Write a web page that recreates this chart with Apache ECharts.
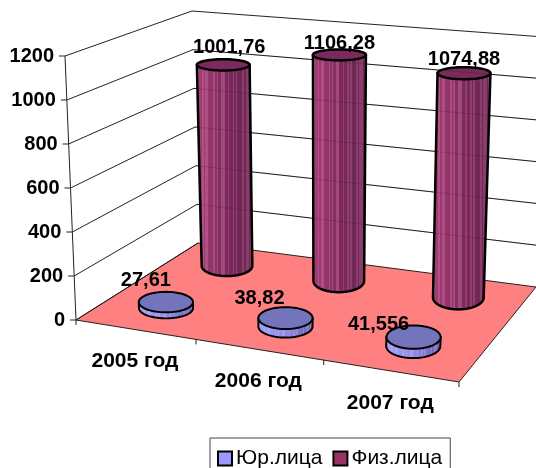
<!DOCTYPE html>
<html><head><meta charset="utf-8">
<style>html,body{margin:0;padding:0;background:#fff}#c{width:536px;height:468px}</style>
<script src="https://cdn.jsdelivr.net/npm/echarts@6/dist/echarts.min.js"></script>
</head><body><div id="c"></div>
<script>
const categories = ['2005 год', '2006 год', '2007 год'];
const seriesNames = ['Юр.лица', 'Физ.лица'];
const valuesJur = [27.61, 38.82, 41.556];
const valuesFiz = [1001.76, 1106.28, 1074.88];
const labelsJur = ['27,61', '38,82', '41,556'];
const labelsFiz = ['1001,76', '1106,28', '1074,88'];
const yTicks = [0, 200, 400, 600, 800, 1000, 1200];

// layout of the oblique box (not data)
const L = 76, R = 459, T = 56, B = 320, W = R - L, H = B - T;
const A0 = [76, 320], B0 = [459, 382], C0 = [198, 243], D0 = [536, 287];
const A1 = [65, 56], B1 = [473, 117], C1 = [192, 11], D1 = [544, 37];
const nudgeJur = [[-20, -22], [-26, -20], [-35, -13]];
const nudgeFiz = [[6, -17], [0, -11], [0, -14]];
const FONT_B = 'bold 20px "Liberation Sans"';
const FONT_CAT = 'bold 21px "Liberation Sans"';

function lerp(a, b, t) { return [a[0] + (b[0] - a[0]) * t, a[1] + (b[1] - a[1]) * t]; }
function project(u, d, v) {
  const f0 = lerp(lerp(A0, B0, u), lerp(C0, D0, u), d);
  const f1 = lerp(lerp(A1, B1, u), lerp(C1, D1, u), d);
  return lerp(f0, f1, v);
}
function frac(api, cat, val) {
  const p = api.coord([cat, val]);
  const u = (p[0] - L) / W;
  return [u - 0.012 - 0.012 * Math.pow(Math.sin(Math.PI * u), 4), (B - p[1]) / H];
}
function zeroV(api, val) { return (B - api.coord([0, val])[1]) / H; }

function hex(c) { return '#' + c.map(x => Math.round(x).toString(16).padStart(2, '0')).join(''); }
function mix(a, b, t) { return [0, 1, 2].map(i => a[i] + (b[i] - a[i]) * t); }
const STRIPE = [0, 1, 0, 0, 1, 0, 1, 1, 0, 0, 0, 1, 0, 1, 0, 0, 1, 1, 0, 0, 1, 0, 0, 1, 0, 1, 0, 0, 0, 1, 0, 1, 1, 0, 1, 0];
function stripedFill(c0, c1, c2, light, amount) {
  const stops = [], n = STRIPE.length;
  for (let k = 0; k < n; k++) {
    const t = k / n, t2 = (k + 1) / n;
    const base = t < 0.5 ? mix(c0, c1, t * 2) : mix(c1, c2, (t - 0.5) * 2);
    const col = STRIPE[k] ? hex(mix(base, light, amount * (t < .5 ? 1 : .7))) : hex(base);
    stops.push({ offset: t, color: col }, { offset: t2, color: col });
  }
  return new echarts.graphic.LinearGradient(0, 0, 1, 0, stops);
}
const fizFill = stripedFill([168, 64, 118], [124, 42, 94], [104, 38, 80], [200, 110, 155], 0.45);
const jurFill = stripedFill([160, 160, 255], [140, 140, 235], [100, 90, 170], [205, 170, 215], 0.45);

function ellipse(cx, cy, rx, ry, a0, a1, n) {
  const pts = [];
  for (let i = 0; i <= n; i++) {
    const a = a0 + (a1 - a0) * i / n;
    pts.push([cx + rx * Math.cos(a), cy + ry * Math.sin(a)]);
  }
  return pts;
}
function cylinder(api, params, cfg) {
  const i = params.dataIndex, val = api.value(1);
  const [u, v] = frac(api, i, val);
  const d = cfg.d, base = project(u, d, 0), top = project(u, d, v);
  const rxB = (project(u + cfg.ru, d, 0)[0] - project(u - cfg.ru, d, 0)[0]) / 2;
  const ryB = (project(u, d - cfg.rd, 0)[1] - project(u, d + cfg.rd, 0)[1]) / 2;
  const rxT = rxB * (1 + 0.05 * v), ryT = ryB * (1 - 0.55 * v);
  const body = [[top[0] - rxT, top[1]], [top[0] + rxT, top[1]]].concat(ellipse(base[0], base[1], rxB, ryB, 0, Math.PI, 40));
  return {
    type: 'group', children: [
      { type: 'polygon', shape: { points: body }, style: { fill: cfg.side, stroke: '#000', lineWidth: cfg.lw, lineJoin: 'round' } },
      { type: 'polygon', shape: { points: ellipse(top[0], top[1], rxT, ryT, 0, Math.PI * 2, 60) }, style: { fill: cfg.top, stroke: '#000', lineWidth: cfg.lw } },
      { type: 'text', z2: 50, style: { text: cfg.labels[i], x: top[0] + cfg.nudge[i][0], y: top[1] + cfg.nudge[i][1], fill: '#000', font: FONT_B, textAlign: 'center', textVerticalAlign: 'middle' } }
    ]
  };
}
function gridPath(api, val) {
  const v = zeroV(api, val);
  return [project(0, 0, v), project(0, 1, v), project(1, 1, v)];
}

const chart = echarts.init(document.getElementById('c'), null, { renderer: 'canvas' });
chart.setOption({
  animation: false,
  backgroundColor: '#fff',
  grid: { left: L, width: W, top: T, height: H },
  xAxis: { type: 'category', data: categories, show: false },
  yAxis: { type: 'value', min: 0, max: 1200, interval: 200, show: false },
  legend: {
    data: seriesNames, left: 210, top: 438, orient: 'horizontal',
    padding: [10, 8, 10, 7], itemGap: 10, itemWidth: 14, itemHeight: 14,
    borderColor: '#444', borderWidth: 1, backgroundColor: '#fff', icon: 'rect', inactiveColor: '#000',
    selectedMode: false,
    textStyle: { color: '#000', fontFamily: '"Liberation Sans"', fontSize: 21, padding: [0, 0, 0, -1] }
  },
  series: [
    { // floor
      type: 'custom', name: 'floor', z: 1, silent: true, data: [[0, 0]],
      renderItem(params, api) {
        const c = [project(0, 0, 0), project(1, 0, 0), project(1, 1, 0), project(0, 1, 0)];
        return { type: 'group', children: [
          { type: 'polygon', shape: { points: c }, style: { fill: '#ff8080', stroke: null } },
          { type: 'polyline', shape: { points: [c[3], c[0], c[1], c[2]] }, style: { stroke: '#222', lineWidth: 1, fill: null } }
        ] };
      }
    },
    { // value axis, gridlines and tick labels
      type: 'custom', name: 'grid', z: 2, silent: true, data: yTicks.map(t => [0, t]),
      renderItem(params, api) {
        const val = api.value(1), pts = gridPath(api, val), p = pts[0];
        return { type: 'group', children: [
          { type: 'polyline', shape: { points: pts }, style: { stroke: '#222', lineWidth: 1, fill: null } },
          { type: 'line', shape: { x1: p[0] - 6, y1: p[1], x2: p[0], y2: p[1] }, style: { stroke: '#222', lineWidth: 1 } },
          { type: 'text', style: { text: String(val), x: p[0] - 11, y: p[1], fill: '#000', font: FONT_B, textAlign: 'right', textVerticalAlign: 'middle' } }
        ] };
      }
    },
    { // axis line on the left
      type: 'custom', name: 'axis', z: 2, silent: true, data: [[0, 0]],
      renderItem(params, api) {
        return { type: 'line', shape: { x1: A0[0], y1: A0[1], x2: A1[0], y2: A1[1] }, style: { stroke: '#222', lineWidth: 1 } };
      }
    },
    { // category ticks and labels
      type: 'custom', name: 'cats', z: 2, silent: true, data: categories.map((c, i) => [i, 0]),
      renderItem(params, api) {
        const i = params.dataIndex;
        const u = frac(api, i, 0)[0], p = project(u, 0, 0);
        const t = project((i + 1) / categories.length - (i < 2 ? 0.02 : 0), 0, 0);
        const children = [
          { type: 'line', shape: { x1: t[0], y1: t[1], x2: t[0], y2: t[1] + 5 }, style: { stroke: '#222', lineWidth: 1 } },
          { type: 'text', style: { text: categories[i], x: p[0], y: p[1] + 32, fill: '#000', font: FONT_CAT, textAlign: 'center', textVerticalAlign: 'middle' } }
        ];
        if (i === 0) children.push({ type: 'line', shape: { x1: A0[0], y1: A0[1], x2: A0[0], y2: A0[1] + 5 }, style: { stroke: '#222', lineWidth: 1 } });
        return { type: 'group', children };
      }
    },
    {
      type: 'custom', name: seriesNames[1], z: 3, itemStyle: { color: '#993366', borderColor: '#000', borderWidth: 2 },
      data: valuesFiz.map((v, i) => [i, v]),
      renderItem(params, api) {
        return cylinder(api, params, { d: 0.8, ru: 0.073, rd: 0.13, lw: 2.5, side: fizFill, top: '#7a2a5c', labels: labelsFiz, nudge: nudgeFiz });
      }
    },
    { // gridlines faintly showing through the columns
      type: 'custom', name: 'through', z: 4, silent: true, data: yTicks.slice(1, -1).map(t => [0, t]),
      renderItem(params, api) {
        return { type: 'polyline', shape: { points: gridPath(api, api.value(1)).slice(1) }, style: { stroke: '#000', opacity: 0.15, lineWidth: 1, fill: null } };
      }
    },
    {
      type: 'custom', name: seriesNames[0], z: 5, itemStyle: { color: '#9999ff', borderColor: '#000', borderWidth: 2 },
      data: valuesJur.map((v, i) => [i, v]),
      renderItem(params, api) {
        return cylinder(api, params, { d: 0.27, ru: 0.073, rd: 0.13, lw: 2, side: jurFill, top: '#7474bc', labels: labelsJur, nudge: nudgeJur });
      }
    }
  ]
});
</script></body></html>
